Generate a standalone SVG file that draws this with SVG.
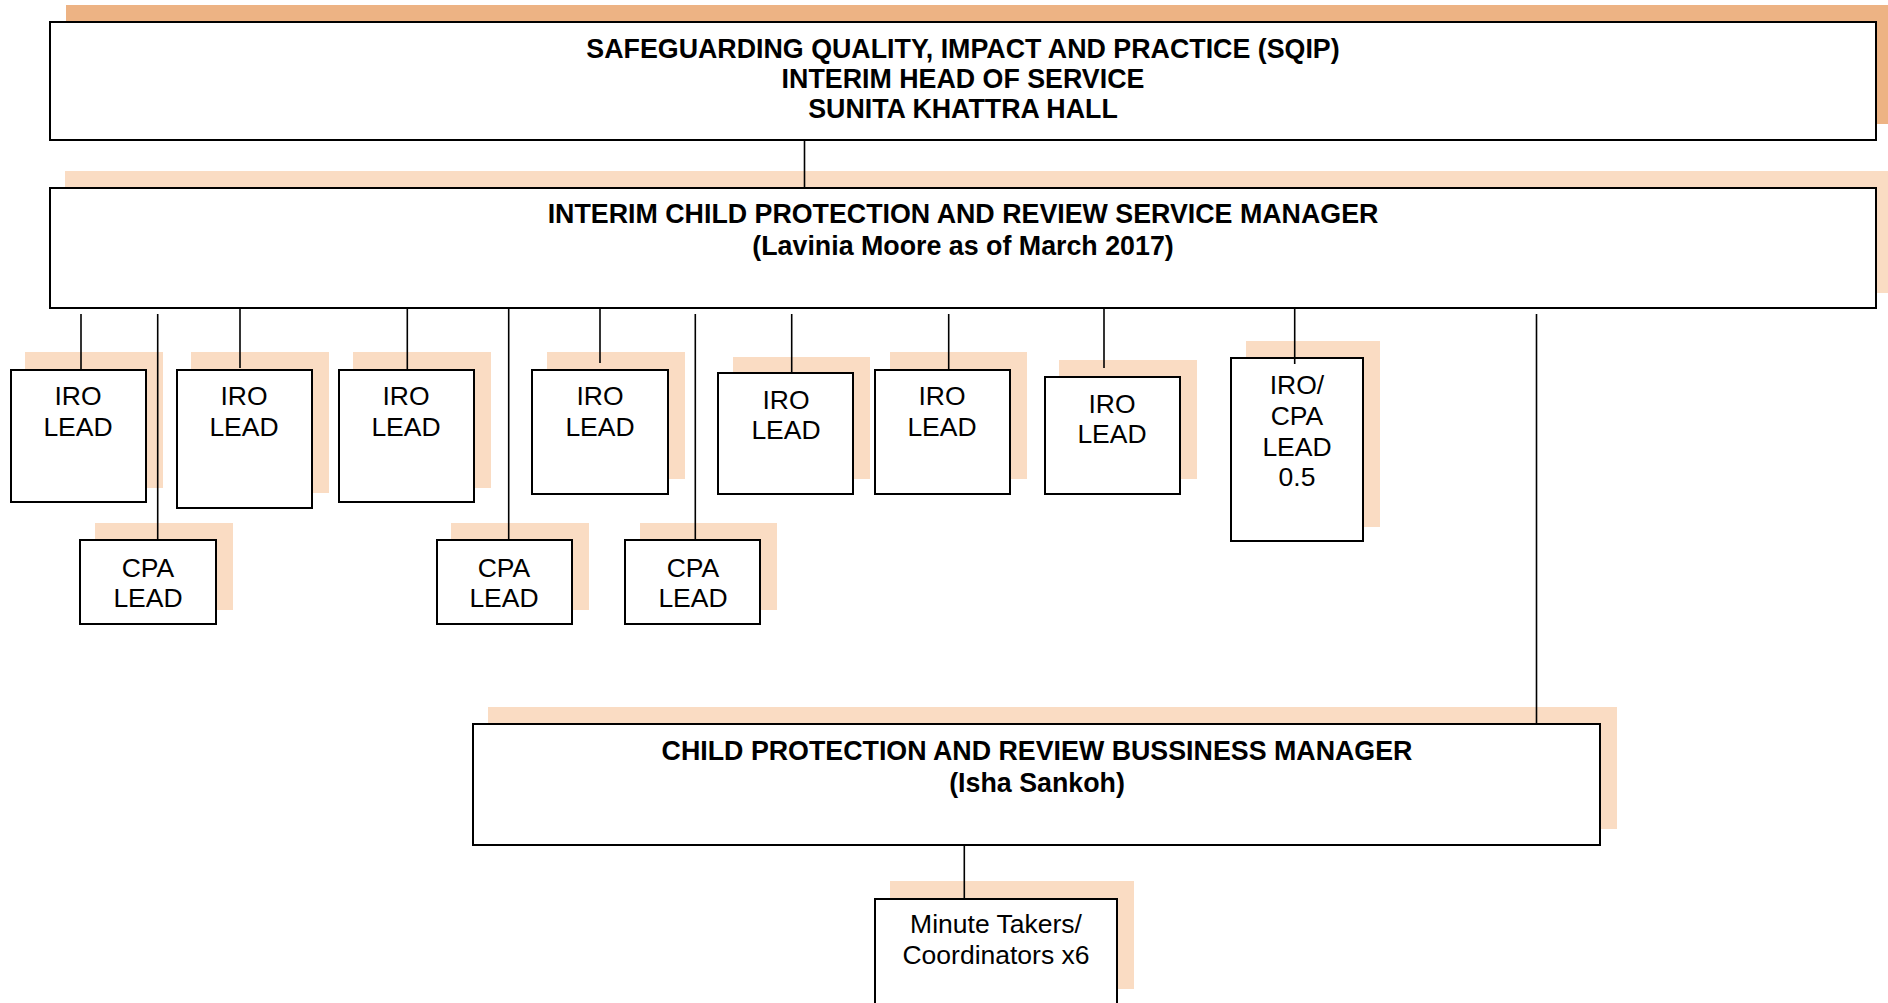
<svg xmlns="http://www.w3.org/2000/svg" width="1888" height="1003" viewBox="0 0 1888 1003">
<style>
.box{fill:#ffffff;stroke:#000000;stroke-width:2}
.sh{fill:#FADCC3;stroke:none}
.shd{fill:#EDB384;stroke:none}
.t{font-family:"Liberation Sans",Arial,sans-serif;font-size:26.5px;fill:#000000;text-anchor:middle}
.b{font-weight:bold;font-size:26.8px}
.c{stroke:#000000;stroke-width:1.6;fill:none}
</style>
<rect width="1888" height="1003" fill="#ffffff"/>
<g id="sqip">
<rect class="shd" x="66" y="5" width="1830" height="119"/>
<rect class="box" x="50" y="22" width="1826" height="118"/>
<text class="t b" x="963" y="58">SAFEGUARDING QUALITY, IMPACT AND PRACTICE (SQIP)</text>
<text class="t b" x="963" y="88">INTERIM HEAD OF SERVICE</text>
<text class="t b" x="963" y="118">SUNITA KHATTRA HALL</text>
</g>
<g id="service-manager">
<rect class="sh" x="65" y="171" width="1830" height="122"/>
<rect class="box" x="50" y="188" width="1826" height="120"/>
<text class="t b" x="963" y="223">INTERIM CHILD PROTECTION AND REVIEW SERVICE MANAGER</text>
<text class="t b" x="963" y="255">(Lavinia Moore as of March 2017)</text>
</g>
<g id="iro1">
<rect class="sh" x="25" y="352" width="138" height="136"/>
<rect class="box" x="11" y="370" width="135" height="132"/>
<text class="t" x="78" y="405">IRO</text>
<text class="t" x="78" y="436">LEAD</text>
</g>
<g id="cpa1">
<rect class="sh" x="95" y="523" width="138" height="87"/>
<rect class="box" x="80" y="540" width="136" height="84"/>
<text class="t" x="148" y="577">CPA</text>
<text class="t" x="148" y="607">LEAD</text>
</g>
<g id="iro2">
<rect class="sh" x="191" y="352" width="138" height="141"/>
<rect class="box" x="177" y="370" width="135" height="138"/>
<text class="t" x="244" y="405">IRO</text>
<text class="t" x="244" y="436">LEAD</text>
</g>
<g id="iro3">
<rect class="sh" x="353" y="352" width="138" height="136"/>
<rect class="box" x="339" y="370" width="135" height="132"/>
<text class="t" x="406" y="405">IRO</text>
<text class="t" x="406" y="436">LEAD</text>
</g>
<g id="cpa2">
<rect class="sh" x="451" y="523" width="138" height="87"/>
<rect class="box" x="437" y="540" width="135" height="84"/>
<text class="t" x="504" y="577">CPA</text>
<text class="t" x="504" y="607">LEAD</text>
</g>
<g id="iro4">
<rect class="sh" x="547" y="352" width="138" height="127"/>
<rect class="box" x="532" y="370" width="136" height="124"/>
<text class="t" x="600" y="405">IRO</text>
<text class="t" x="600" y="436">LEAD</text>
</g>
<g id="cpa3">
<rect class="sh" x="640" y="523" width="137" height="87"/>
<rect class="box" x="625" y="540" width="135" height="84"/>
<text class="t" x="693" y="577">CPA</text>
<text class="t" x="693" y="607">LEAD</text>
</g>
<g id="iro5">
<rect class="sh" x="733" y="357" width="137" height="122"/>
<rect class="box" x="718" y="373" width="135" height="121"/>
<text class="t" x="786" y="409">IRO</text>
<text class="t" x="786" y="439">LEAD</text>
</g>
<g id="iro6">
<rect class="sh" x="890" y="352" width="137" height="127"/>
<rect class="box" x="875" y="370" width="135" height="124"/>
<text class="t" x="942" y="405">IRO</text>
<text class="t" x="942" y="436">LEAD</text>
</g>
<g id="iro7">
<rect class="sh" x="1059" y="360" width="138" height="119"/>
<rect class="box" x="1045" y="377" width="135" height="117"/>
<text class="t" x="1112" y="413">IRO</text>
<text class="t" x="1112" y="443">LEAD</text>
</g>
<g id="iro-cpa">
<rect class="sh" x="1246" y="341" width="134" height="186"/>
<rect class="box" x="1231" y="358" width="132" height="183"/>
<text class="t" x="1297" y="394">IRO/</text>
<text class="t" x="1297" y="425">CPA</text>
<text class="t" x="1297" y="456">LEAD</text>
<text class="t" x="1297" y="486">0.5</text>
</g>
<g id="business-manager">
<rect class="sh" x="488" y="707" width="1129" height="122"/>
<rect class="box" x="473" y="724" width="1127" height="121"/>
<text class="t b" x="1037" y="760">CHILD PROTECTION AND REVIEW BUSSINESS MANAGER</text>
<text class="t b" x="1037" y="792">(Isha Sankoh)</text>
</g>
<g id="minute-takers">
<rect class="sh" x="890" y="881" width="244" height="108"/>
<rect class="box" x="875" y="899" width="242" height="130"/>
<text class="t" x="996" y="933">Minute Takers/</text>
<text class="t" x="996" y="964">Coordinators x6</text>
</g>
<g id="connectors">
<line class="c" x1="804.5" y1="140" x2="804.5" y2="188"/>
<line class="c" x1="81" y1="314" x2="81" y2="370"/>
<line class="c" x1="157.7" y1="314" x2="157.7" y2="540"/>
<line class="c" x1="240" y1="309" x2="240" y2="368"/>
<line class="c" x1="407.3" y1="309" x2="407.3" y2="370"/>
<line class="c" x1="508.7" y1="309" x2="508.7" y2="540"/>
<line class="c" x1="600" y1="309" x2="600" y2="363"/>
<line class="c" x1="695.3" y1="314" x2="695.3" y2="540"/>
<line class="c" x1="791.7" y1="314" x2="791.7" y2="373"/>
<line class="c" x1="948.7" y1="314" x2="948.7" y2="370"/>
<line class="c" x1="1104" y1="309" x2="1104" y2="368"/>
<line class="c" x1="1294.7" y1="309" x2="1294.7" y2="364"/>
<line class="c" x1="1536.5" y1="314" x2="1536.5" y2="724"/>
<line class="c" x1="964.3" y1="845" x2="964.3" y2="899"/>
</g>
</svg>
